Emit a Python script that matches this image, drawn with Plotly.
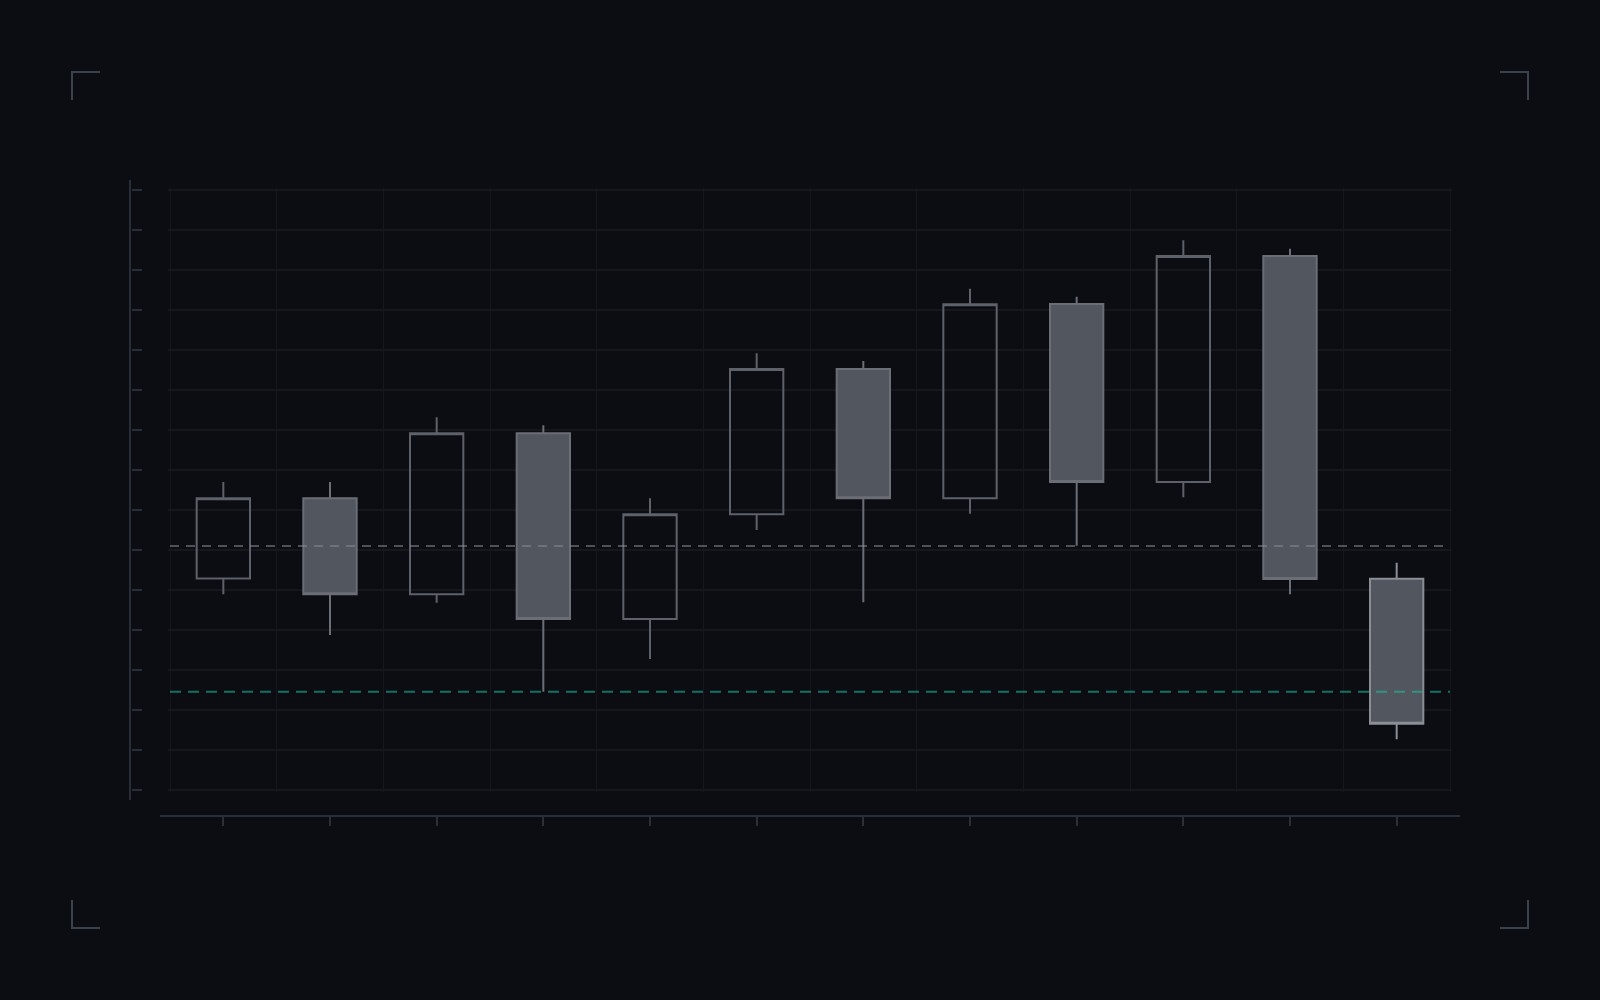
import plotly.graph_objects as go

# ---- data ----
periods = list(range(12))
open_ = [113.22, 118.23, 112.23, 122.29, 110.69, 117.23, 126.31, 118.23, 130.38, 119.25, 133.38, 113.21]
high = [119.25, 119.25, 123.29, 122.79, 118.23, 127.29, 126.81, 131.33, 130.83, 134.36, 133.83, 114.21]
low = [112.23, 109.69, 111.71, 106.14, 108.19, 116.25, 111.73, 117.27, 115.27, 118.29, 112.23, 103.17]
close = [118.23, 112.23, 122.29, 110.69, 117.23, 126.31, 118.23, 130.36, 119.25, 133.38, 113.19, 104.14]
reference_level = 115.25
support_level = 106.14
y_ticks = [100 + 2.5 * i for i in range(16)]
x_bounds = [-0.5 + i for i in range(13)]

BG = "#0b0d12"
GRID = "#15171d"
AXIS = "#2a2e36"
BRACKET = "#3c4049"

W, H = 1600, 1000
PAD = 2.0  # px of slack so edge grid lines / ticks are not clipped


def px(x):
    return x / W


def py(y):
    return 1 - y / H


# pixel frame of the plot area
X0, X1, Y0, Y1 = 170, 1450, 190, 790
x_unit = (X1 - X0) / (x_bounds[-1] - x_bounds[0])
y_unit = (Y1 - Y0) / (y_ticks[-1] - y_ticks[0])

fig = go.Figure()

n = len(periods)
fig.add_trace(go.Candlestick(
    x=periods[:n - 1], open=open_[:n - 1], high=high[:n - 1], low=low[:n - 1], close=close[:n - 1],
    increasing=dict(line=dict(color="#5e6168", width=2), fillcolor="rgba(0,0,0,0)"),
    decreasing=dict(line=dict(color="#6b6e75", width=2), fillcolor="#52565e"),
    whiskerwidth=0, hoverinfo="skip", showlegend=False,
))
fig.add_trace(go.Candlestick(
    x=periods[n - 1:], open=open_[n - 1:], high=high[n - 1:], low=low[n - 1:], close=close[n - 1:],
    increasing=dict(line=dict(color="#8b8e95", width=2), fillcolor="rgba(0,0,0,0)"),
    decreasing=dict(line=dict(color="#8b8e95", width=2), fillcolor="#52565e"),
    whiskerwidth=0, hoverinfo="skip", showlegend=False,
))

shapes = []
# reference lines (full plot width)
shapes.append(dict(type="line", xref="x", x0=x_bounds[0], x1=x_bounds[-1], yref="y", y0=reference_level, y1=reference_level,
                   line=dict(color="#868a92", width=2, dash="9px,7px"), opacity=0.55, layer="above"))
shapes.append(dict(type="line", xref="x", x0=x_bounds[0], x1=x_bounds[-1], yref="y", y0=support_level, y1=support_level,
                   line=dict(color="#1ec29e", width=2, dash="11px,7px"), opacity=0.55, layer="above"))
# detached axis lines
shapes.append(dict(type="line", xref="paper", yref="paper", x0=px(130), x1=px(130), y0=py(180), y1=py(800),
                   line=dict(color=AXIS, width=2)))
shapes.append(dict(type="line", xref="paper", yref="paper", x0=px(160), x1=px(1460), y0=py(816), y1=py(816),
                   line=dict(color=AXIS, width=2)))
# corner brackets
L = 28
for cx, cy, dx, dy in [(72, 72, 1, 1), (1528, 72, -1, 1), (72, 928, 1, -1), (1528, 928, -1, -1)]:
    shapes.append(dict(type="path", xref="paper", yref="paper",
                       path=f"M {px(cx + dx * L)},{py(cy)} L {px(cx)},{py(cy)} L {px(cx)},{py(cy + dy * L)}",
                       line=dict(color=BRACKET, width=2)))

fig.update_layout(
    width=W, height=H, autosize=False,
    margin=dict(l=0, r=0, t=0, b=0),
    paper_bgcolor=BG, plot_bgcolor=BG,
    boxgap=0.5, boxgroupgap=0,
    shapes=shapes,
    showlegend=False,
    hovermode=False,
    xaxis=dict(
        domain=[px(X0 - PAD), px(X1 + PAD)],
        range=[x_bounds[0] - PAD / x_unit, x_bounds[-1] + PAD / x_unit],
        anchor="free", position=py(816) + 0.001,
        rangeslider=dict(visible=False),
        tickmode="array", tickvals=periods, showticklabels=False,
        ticks="outside", ticklen=10, tickwidth=2, tickcolor=AXIS,
        showgrid=False, zeroline=False, showline=False,
        minor=dict(tickmode="array", tickvals=x_bounds, showgrid=True, gridcolor=GRID, gridwidth=1, ticks=""),
        fixedrange=True,
    ),
    yaxis=dict(
        domain=[py(Y1 + PAD), py(Y0 - PAD)],
        range=[y_ticks[0] - PAD / y_unit, y_ticks[-1] + PAD / y_unit],
        anchor="free", position=px(130) + 0.0006,
        tickmode="array", tickvals=y_ticks, showticklabels=False,
        ticks="inside", ticklen=10, tickwidth=2, tickcolor=AXIS,
        showgrid=True, gridcolor=GRID, gridwidth=1.5,
        zeroline=False, showline=False,
        fixedrange=True,
    ),
)

fig.write_html(
    "out.html",
    config=dict(displayModeBar=False, staticPlot=True),
    post_script="document.body.style.margin='0';document.body.style.background='#0b0d12';",
)
